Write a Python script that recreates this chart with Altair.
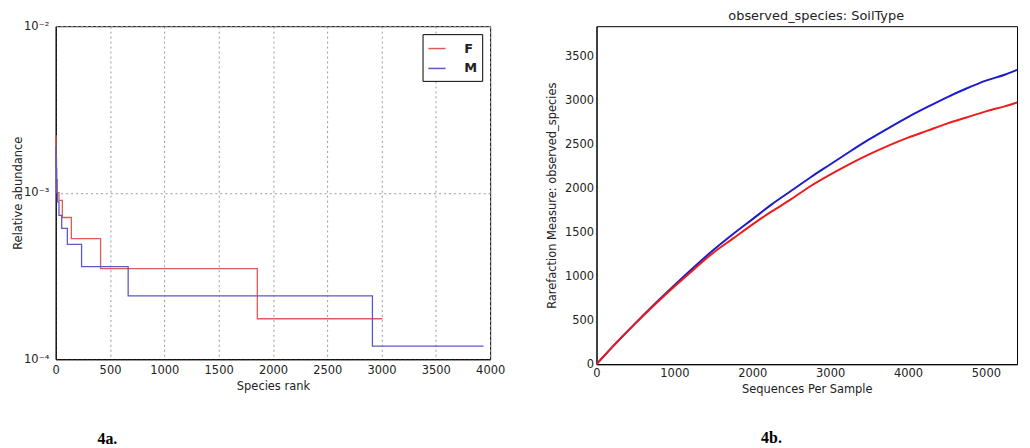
import altair as alt
import pandas as pd

# ---- Panel 4a: rank-abundance (step lines, log y) ----
f_rank = [0, 3, 8, 15, 30, 61, 144, 413, 1856, 3008]
f_abund = [2.2e-3, 1.6e-3, 1.2e-3, 1.0e-3, 9.0e-4, 7.1e-4, 5.3e-4, 3.5e-4, 1.75e-4, 1.75e-4]
m_rank = [0, 3, 8, 15, 30, 55, 107, 238, 667, 2916, 3939]
m_abund = [1.9e-3, 1.4e-3, 1.0e-3, 8.8e-4, 7.3e-4, 6.1e-4, 4.9e-4, 3.6e-4, 2.4e-4, 1.2e-4, 1.2e-4]
groups = ["F", "M"]
x_ticks_left = [0, 500, 1000, 1500, 2000, 2500, 3000, 3500, 4000]
y_ticks_left = [1e-4, 1e-3, 1e-2]

# ---- Panel 4b: rarefaction curves ----
seqs = [0, 250, 500, 750, 1000, 1250, 1500, 1750, 2000, 2250, 2500, 2750, 3000,
        3250, 3500, 3750, 4000, 4250, 4500, 4750, 5000, 5250, 5400]
red_obs = [0, 240, 465, 680, 885, 1080, 1270, 1430, 1590, 1740, 1880, 2030, 2160,
           2280, 2390, 2490, 2580, 2660, 2740, 2810, 2880, 2940, 2982]
blue_obs = [0, 240, 468, 688, 900, 1105, 1300, 1480, 1650, 1820, 1975, 2130, 2275,
            2420, 2560, 2690, 2815, 2930, 3040, 3140, 3230, 3300, 3352]
x_ticks_right = [0, 1000, 2000, 3000, 4000, 5000]
y_ticks_right = [0, 500, 1000, 1500, 2000, 2500, 3000, 3500]

FONT = "DejaVu Sans"
TXT = "#222222"

df_left = pd.DataFrame({
    "rank": f_rank + m_rank,
    "abund": f_abund + m_abund,
    "group": ["F"] * len(f_rank) + ["M"] * len(m_rank),
})

LW, LH = 437, 335
left_lines = alt.Chart(df_left).mark_line(interpolate="step-after", strokeWidth=1.3).encode(
    x=alt.X("rank:Q",
            scale=alt.Scale(domain=[0, 4000], nice=False, zero=False),
            axis=alt.Axis(values=x_ticks_left, format="d", title="Species rank", grid=True,
                          gridDash=[2, 3], gridColor="#999999", ticks=False,
                          labelFlush=False, labelPadding=5, labelFontSize=11.5,
                          titleFontSize=11.5, titleY=27, titleBaseline="middle",
                          titleFontWeight="normal")),
    y=alt.Y("abund:Q",
            scale=alt.Scale(type="log", domain=[1e-4, 1e-2], nice=False),
            axis=alt.Axis(values=y_ticks_left,
                          labelExpr="'10' + (datum.value < 0.0005 ? '⁻⁴' : (datum.value < 0.005 ? '⁻³' : '⁻²'))",
                          title="Relative abundance", grid=True, gridDash=[2, 3],
                          gridColor="#999999", ticks=False, labelPadding=7,
                          labelFontSize=11.5, titleFontSize=11.5, titleX=-37,
                          titleY=LH / 2, titleBaseline="middle", titleFontWeight="normal")),
    color=alt.Color("group:N",
                    scale=alt.Scale(domain=groups, range=["#e05a5a", "#5a5ac8"]),
                    legend=alt.Legend(title=None, orient="top-right", offset=8,
                                      symbolType="stroke", symbolSize=300,
                                      symbolStrokeWidth=1.5, labelFontSize=13,
                                      labelFontWeight="bold", labelOffset=18,
                                      padding=5, rowPadding=3,
                                      strokeColor="black", fillColor="white",
                                      labelColor=TXT)),
)

left_caption = alt.Chart(pd.DataFrame({"t": ["4a."]})).mark_text(
    font="Liberation Serif", fontWeight="bold", fontSize=16, color="black"
).encode(text="t:N", x=alt.value(52), y=alt.value(LH + 80))

left = alt.layer(left_lines, left_caption).properties(width=LW, height=LH)

df_blue = pd.DataFrame({"seq": seqs, "obs": blue_obs})
df_red = pd.DataFrame({"seq": seqs, "obs": red_obs})

RW, RH = 423, 340
x_right = alt.X("seq:Q",
                scale=alt.Scale(domain=[0, 5400], nice=False),
                axis=alt.Axis(values=x_ticks_right, format="d", title="Sequences Per Sample",
                              grid=False, ticks=False, labelFlush=False, labelPadding=3,
                              labelFontSize=11.5, titleFontSize=11.5, titleY=25,
                              titleBaseline="middle", titleFontWeight="normal"))
y_right = alt.Y("obs:Q",
                scale=alt.Scale(domain=[0, 3850], nice=False),
                axis=alt.Axis(values=y_ticks_right, format="d",
                              title="Rarefaction Measure: observed_species",
                              grid=False, ticks=False, labelPadding=3, labelFontSize=11.5,
                              titleFontSize=11.5, titleX=-44, titleY=RH / 2,
                              titleBaseline="middle", titleFontWeight="normal"))

blue_line = alt.Chart(df_blue).mark_line(strokeWidth=2, interpolate="monotone", color="#1c1cc8").encode(
    x=x_right, y=y_right)
red_line = alt.Chart(df_red).mark_line(strokeWidth=2, interpolate="monotone", color="#ec1c1c").encode(
    x=x_right, y=y_right)

right_title = alt.Chart(pd.DataFrame({"t": ["observed_species: SoilType"]})).mark_text(
    font=FONT, fontSize=13, color=TXT
).encode(text="t:N", x=alt.value(221), y=alt.value(-10))

right_caption = alt.Chart(pd.DataFrame({"t": ["4b."]})).mark_text(
    font="Liberation Serif", fontWeight="bold", fontSize=16, color="black"
).encode(text="t:N", x=alt.value(176), y=alt.value(RH + 74))

right = alt.layer(blue_line, red_line, right_title, right_caption).properties(width=RW, height=RH)

chart = alt.hconcat(left, right, spacing=107, bounds="flush").resolve_scale(
    color="independent"
).properties(
    padding={"left": 4, "top": 0, "right": 0, "bottom": 0}
).configure_view(
    stroke="black", strokeWidth=1
).configure_axis(
    labelFont=FONT, titleFont=FONT, labelColor=TXT, titleColor=TXT,
    domainColor="black", domainWidth=1
).configure_legend(
    labelFont=FONT
)

chart.save("out.html", embed_options={"renderer": "svg", "actions": False})
